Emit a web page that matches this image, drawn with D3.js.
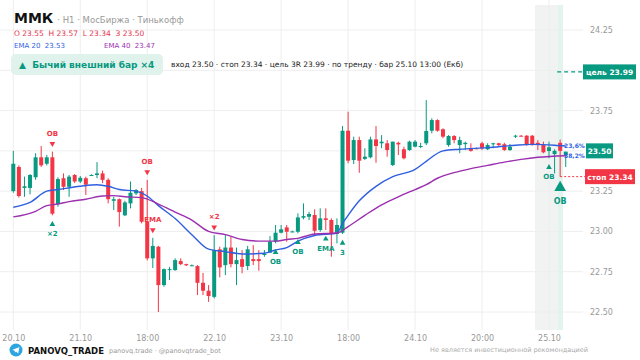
<!DOCTYPE html>
<html>
<head>
<meta charset="utf-8">
<script src="https://cdn.jsdelivr.net/npm/d3@7"></script>
<style>
  body { margin: 0; background: #fff; }
  svg { display: block; font-family: "DejaVu Sans", sans-serif; }
</style>
</head>
<body>
<svg id="chart" width="640" height="360"></svg>
<script>
// --- data ---
var opens = [23.25,23.40,23.27,23.27,23.336,23.46,23.42,23.46,23.17,23.33,
  23.277,23.35,23.31,23.33,23.35,23.35,23.36,23.32,23.19,23.20,
  23.10,23.174,23.236,23.25,23.06,22.833,22.905,22.667,22.76,22.76,
  22.816,22.797,22.79,22.785,22.681,22.632,22.594,22.889,22.791,22.90,
  22.797,22.828,22.785,22.828,22.828,22.857,22.868,22.936,22.992,23.025,
  22.998,22.998,23.085,23.091,23.102,23.009,23.081,23.071,22.984,22.992,
  23.625,23.443,23.567,23.45,23.46,23.571,23.547,23.547,23.412,23.55,
  23.51,23.505,23.526,23.526,23.547,23.625,23.691,23.634,23.536,23.592,
  23.536,23.542,23.516,23.516,23.547,23.51,23.541,23.547,23.541,23.505,
  23.59,23.594,23.594,23.594,23.55,23.536,23.499,23.48,23.55,23.474];
var highs = [23.50,23.41,23.34,23.356,23.485,23.53,23.474,23.495,23.336,23.36,
  23.35,23.356,23.344,23.34,23.355,23.43,23.377,23.33,23.215,23.205,
  23.19,23.31,23.263,23.27,23.32,22.96,22.91,22.77,22.78,22.833,
  22.833,22.80,22.795,22.791,22.742,22.667,22.977,22.905,22.977,22.967,
  22.90,22.884,22.91,22.915,22.884,22.884,22.971,23.04,23.04,23.04,
  23.005,23.112,23.174,23.122,23.137,23.143,23.143,23.081,23.081,23.654,
  23.743,23.588,23.588,23.516,23.588,23.654,23.598,23.567,23.557,23.557,
  23.526,23.563,23.567,23.55,23.815,23.702,23.696,23.64,23.598,23.598,
  23.588,23.557,23.547,23.52,23.557,23.547,23.55,23.55,23.55,23.542,
  23.60,23.598,23.598,23.598,23.567,23.557,23.557,23.51,23.57,23.495];
var lows = [23.24,23.21,23.215,23.23,23.32,23.40,23.41,23.10,23.153,23.257,
  23.215,23.30,23.30,23.226,23.345,23.33,23.30,23.174,23.133,23.03,
  23.095,23.143,23.226,23.05,22.82,22.773,22.50,22.657,22.698,22.756,
  22.791,22.785,22.785,22.605,22.605,22.563,22.584,22.715,22.729,22.777,
  22.667,22.74,22.76,22.791,22.756,22.843,22.868,22.926,22.988,22.936,
  22.995,22.988,23.075,23.07,22.977,22.998,23.009,22.843,22.926,22.984,
  23.423,23.418,23.364,23.443,23.454,23.426,23.516,23.464,23.406,23.474,
  23.447,23.50,23.522,23.517,23.536,23.609,23.619,23.578,23.526,23.547,
  23.485,23.505,23.495,23.51,23.505,23.505,23.516,23.526,23.50,23.50,
  23.58,23.59,23.532,23.532,23.505,23.485,23.454,23.36,23.34,23.40];
var closes = [23.42,23.22,23.28,23.35,23.46,23.41,23.46,23.11,23.325,23.277,
  23.34,23.31,23.333,23.29,23.35,23.36,23.32,23.20,23.20,23.12,
  23.18,23.24,23.257,23.06,22.833,22.91,22.667,22.766,22.766,22.822,
  22.797,22.79,22.79,22.681,22.632,22.599,22.884,22.777,22.90,22.797,
  22.822,22.78,22.889,22.816,22.816,22.86,22.936,22.992,23.013,22.998,
  23.00,23.087,23.095,23.108,23.004,23.081,23.071,22.984,23.04,23.625,
  23.439,23.567,23.439,23.464,23.571,23.53,23.557,23.505,23.557,23.54,
  23.454,23.557,23.557,23.53,23.623,23.691,23.625,23.588,23.592,23.567,
  23.567,23.55,23.50,23.513,23.516,23.536,23.547,23.536,23.505,23.526,
  23.594,23.592,23.536,23.536,23.54,23.491,23.522,23.50,23.50,23.495];

var ema20Idx = [0,3,6,8,12,15,17,19,22,24,26,29,32,35,38,41,45,47,49,51,54,58,59,60,62,65,68,72,74,77,80,85,90,93,97,99];
var ema20Val = [23.15,23.18,23.25,23.26,23.28,23.29,23.28,23.26,23.25,23.22,23.16,23.08,22.98,22.89,22.875,22.86,22.865,22.885,22.90,22.94,22.975,22.99,23.05,23.10,23.19,23.28,23.34,23.385,23.435,23.50,23.51,23.52,23.535,23.54,23.535,23.53];
var ema40Idx = [0,4,6,8,10,13,16,18,20,23,26,29,32,35,38,41,44,47,49,51,54,58,60,63,66,69,72,74,76,79,82,85,88,91,94,99];
var ema40Val = [23.09,23.125,23.16,23.17,23.185,23.20,23.22,23.222,23.215,23.21,23.17,23.12,23.07,23.00,22.98,22.95,22.94,22.94,22.95,22.957,22.984,22.99,23.03,23.10,23.165,23.215,23.26,23.29,23.33,23.365,23.39,23.41,23.43,23.447,23.46,23.47];

var xTickIdx = [0,12,24,36,48,60,72,84,96];
var xTickLabels = ["20.10","21.10","18:00","22.10","23.10","18:00","24.10","20:00","25.10"];
var yTicks = [22.5,22.75,23,23.25,23.5,23.75,24,24.25];

// signal markers: bar index, side, label
var markIdx   = [7, 7, 24, 25, 36, 47, 51, 56, 59, 96];
var markSide  = ["down","up","down","down","down","up","up","up","up","up"];
var markLabel = ["OB","\u00d72","OB","EMA","\u00d72","OB","OB","EMA","3","OB"];

var signalBar = 98, outsideBars = 4;
var entry = 23.50, stop = 23.34, target = 23.99;
var fibLabels = ["23,6%","38,2%"], fibLevels = [23.535, 23.47];

// --- layout ---
var UP = "#089981", DOWN = "#f23645", BLUE = "#2f5fe0", PURPLE = "#9c2fb0";
var svg = d3.select("#chart");
var plotRight = 583, plotTop = 0, plotBottom = 330;

var x = d3.scaleLinear().domain([0, 96]).range([13.3, 549]);
var y = d3.scaleLinear().domain([22.5, 24.25]).range([312, 30]);
var bw = 4;

// highlight band
svg.append("rect").attr("x", x(signalBar - outsideBars - 0.5)).attr("y", 5)
  .attr("width", x(signalBar - 0.5) - x(signalBar - outsideBars - 0.5)).attr("height", plotBottom - 5)
  .attr("fill", "#f1f2f2");
svg.append("rect").attr("x", x(signalBar - 0.5)).attr("y", 5)
  .attr("width", x(signalBar + 0.5) - x(signalBar - 0.5)).attr("height", plotBottom - 5)
  .attr("fill", "#e3f3ee");

// grid
svg.append("g").selectAll("line").data(yTicks).join("line")
  .attr("x1", 0).attr("x2", plotRight)
  .attr("y1", function (d) { return y(d); }).attr("y2", function (d) { return y(d); })
  .attr("stroke", "#eeeeee");
svg.append("g").selectAll("line").data(xTickIdx).join("line")
  .attr("x1", function (d) { return x(d); }).attr("x2", function (d) { return x(d); })
  .attr("y1", plotTop).attr("y2", plotBottom)
  .attr("stroke", "#eeeeee");

// axes (labels hidden where a price tag sits on top)
var tagged = [entry, target];
var yLabelTicks = yTicks.filter(function (v) {
  return !tagged.some(function (t) { return Math.abs(y(v) - y(t)) < 10; });
});
var yAxis = svg.append("g").attr("transform", "translate(588,0)")
  .call(d3.axisRight(y).tickValues(yLabelTicks).tickSize(0).tickPadding(2).tickFormat(d3.format(".2f")));
yAxis.select(".domain").remove();
yAxis.selectAll("text").attr("fill", "#999").style("font-size", "8px").style("font-family", "DejaVu Sans");

var xAxis = svg.append("g").attr("transform", "translate(0,333)")
  .call(d3.axisBottom(x).tickValues(xTickIdx).tickSize(0).tickPadding(2)
    .tickFormat(function (d, i) { return xTickLabels[i]; }));
xAxis.select(".domain").remove();
xAxis.selectAll("text").attr("fill", "#999").style("font-size", "8px").style("font-family", "DejaVu Sans");

// candles
var idx = d3.range(closes.length);
var cg = svg.append("g");
cg.selectAll("line").data(idx).join("line")
  .attr("x1", function (i) { return x(i); }).attr("x2", function (i) { return x(i); })
  .attr("y1", function (i) { return y(highs[i]); }).attr("y2", function (i) { return y(lows[i]); })
  .attr("stroke", function (i) { return closes[i] >= opens[i] ? UP : DOWN; })
  .attr("stroke-width", 1);
cg.selectAll("rect").data(idx).join("rect")
  .attr("x", function (i) { return x(i) - bw / 2; })
  .attr("width", bw)
  .attr("y", function (i) { return y(Math.max(opens[i], closes[i])); })
  .attr("height", function (i) { return Math.max(1, Math.abs(y(opens[i]) - y(closes[i]))); })
  .attr("fill", function (i) { return closes[i] >= opens[i] ? UP : DOWN; });

// EMA lines
function emaLine(ix, vals, color) {
  var line = d3.line().curve(d3.curveMonotoneX)
    .x(function (d, i) { return x(ix[i]); })
    .y(function (d) { return y(d); });
  svg.append("path").datum(vals).attr("d", line)
    .attr("fill", "none").attr("stroke", color).attr("stroke-width", 1.4);
}
emaLine(ema20Idx, ema20Val, BLUE);
emaLine(ema40Idx, ema40Val, PURPLE);

// markers
var mg = svg.append("g").style("font-size", "7px").style("font-weight", "bold").attr("text-anchor", "middle");
markIdx.forEach(function (b, k) {
  var cx = x(b);
  if (markSide[k] === "down") {
    var ty = y(highs[b]) - 8;
    mg.append("path").attr("d", d3.symbol(d3.symbolTriangle, 14)()).attr("transform", "translate(" + cx + "," + ty + ") rotate(180)").attr("fill", DOWN);
    mg.append("text").attr("x", cx).attr("y", ty - 8).attr("fill", DOWN).text(markLabel[k]);
  } else {
    var by = y(lows[b]) + 9;
    mg.append("path").attr("d", d3.symbol(d3.symbolTriangle, 14)()).attr("transform", "translate(" + cx + "," + by + ")").attr("fill", UP);
    mg.append("text").attr("x", cx).attr("y", by + 12).attr("fill", UP).text(markLabel[k]);
  }
});
// big signal marker
var sy = y(lows[signalBar]) + 11;
svg.append("path").attr("d", d3.symbol(d3.symbolTriangle, 60)()).attr("transform", "translate(" + x(signalBar) + "," + sy + ")").attr("fill", UP);
svg.append("text").attr("x", x(signalBar)).attr("y", sy + 16).attr("text-anchor", "middle")
  .attr("fill", UP).style("font-size", "8px").style("font-weight", "bold").text("OB");

// fib labels
fibLabels.forEach(function (t, k) {
  svg.append("text").attr("x", 564).attr("y", y(fibLevels[k]) + 2.5).attr("fill", BLUE)
    .style("font-size", "6px").style("font-weight", "bold").text(t);
});

// target / stop lines
svg.append("line").attr("x1", x(signalBar) - 3).attr("x2", 583).attr("y1", y(target)).attr("y2", y(target))
  .attr("stroke", UP).attr("stroke-width", 1.2).attr("stroke-dasharray", "4,3");
svg.append("line").attr("x1", x(signalBar)).attr("x2", 585).attr("y1", y(stop)).attr("y2", y(stop))
  .attr("stroke", DOWN).attr("stroke-width", 1).attr("stroke-dasharray", "2,2");

function tag(x0, w, v, fill, text) {
  svg.append("rect").attr("x", x0).attr("y", y(v) - 7.5).attr("width", w).attr("height", 15).attr("fill", fill);
  svg.append("text").attr("x", x0 + w / 2).attr("y", y(v) + 3).attr("text-anchor", "middle")
    .attr("fill", "#fff").style("font-size", "7.5px").style("font-weight", "bold").text(text);
}
tag(583, 53, target, UP, "цель " + target.toFixed(2));
tag(586, 27, entry, UP, entry.toFixed(2));
tag(585, 50, stop, DOWN, "стоп " + stop.toFixed(2));

// header
var last = signalBar;
var h = svg.append("g");
var t1 = h.append("text").attr("x", 14).attr("y", 23);
t1.append("tspan").style("font-size", "14px").style("font-weight", "bold").attr("fill", "#111").text("ММК");
t1.append("tspan").attr("dx", 4).style("font-size", "8.5px").attr("fill", "#999").text("· H1 · МосБиржа · Тинькофф");
h.append("text").attr("x", 14).attr("y", 36).attr("fill", "#e5354f").style("font-size", "7.5px")
  .attr("xml:space", "preserve")
  .text("O " + opens[last].toFixed(2) + "  H " + highs[last].toFixed(2) + "  L " + lows[last].toFixed(2) + "  З " + closes[last].toFixed(2));
h.append("text").attr("x", 14).attr("y", 48).attr("fill", BLUE).style("font-size", "7px")
  .attr("xml:space", "preserve").text("EMA 20  " + ema20Val[ema20Val.length - 1].toFixed(2));
h.append("text").attr("x", 104).attr("y", 48).attr("fill", PURPLE).style("font-size", "7px")
  .attr("xml:space", "preserve").text("EMA 40  " + ema40Val[ema40Val.length - 1].toFixed(2));

h.append("rect").attr("x", 11).attr("y", 54).attr("width", 152).attr("height", 21).attr("rx", 5).attr("fill", "#dff2eb");
h.append("text").attr("x", 19).attr("y", 68).attr("fill", UP).style("font-size", "9px").style("font-weight", "bold")
  .attr("xml:space", "preserve").text("▲  Бычий внешний бар ×4");
h.append("text").attr("x", 171).attr("y", 67).attr("fill", "#222").style("font-size", "7.5px")
  .text("вход 23.50 · стоп 23.34 · цель 3R 23.99 · по тренду · бар 25.10 13:00 (Екб)");

// footer
var f = svg.append("g");
f.append("circle").attr("cx", 16).attr("cy", 350).attr("r", 6.5).attr("fill", "#2ca5e0");
f.append("path").attr("d", "M12.5,349.8 L19.5,347 L18.2,353.5 L16,351.6 L14.8,352.8 L14.9,350.9 Z").attr("fill", "#fff");
f.append("text").attr("x", 28).attr("y", 353.5).attr("fill", "#111").style("font-size", "8.5px").style("font-weight", "bold").text("PANOVQ_TRADE");
f.append("text").attr("x", 109).attr("y", 353).attr("fill", "#999").style("font-size", "6.5px").text("panovq.trade · @panovqtrade_bot");
f.append("text").attr("x", 588).attr("y", 352).attr("text-anchor", "end").attr("fill", "#aaa").style("font-size", "6.5px").text("Не является инвестиционной рекомендацией");
</script>
</body>
</html>
